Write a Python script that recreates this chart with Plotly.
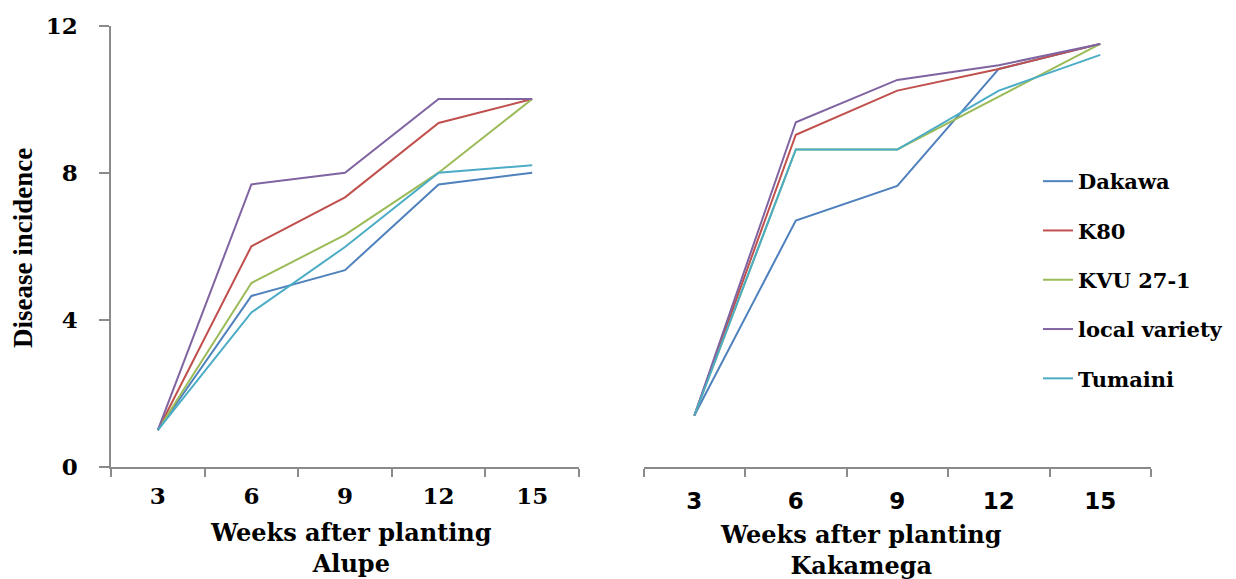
import plotly.graph_objects as go

W, H = 1236, 579

weeks = ["3", "6", "9", "12", "15"]
series_names = ["Dakawa", "K80", "KVU 27-1", "local variety", "Tumaini"]
colors = ["#4F81BD", "#C0504D", "#9BBB59", "#8064A2", "#4BACC6"]

# Alupe
dakawa_alupe = [1.0, 4.65, 5.35, 7.68, 8.0]
k80_alupe = [1.0, 6.0, 7.33, 9.35, 10.0]
kvu_alupe = [1.0, 5.0, 6.31, 8.0, 10.0]
local_alupe = [1.0, 7.68, 8.0, 10.0, 10.0]
tumaini_alupe = [1.0, 4.2, 5.98, 8.0, 8.2]

# Kakamega
dakawa_kak = [1.4, 6.7, 7.64, 10.82, 11.5]
k80_kak = [1.4, 9.03, 10.23, 10.82, 11.5]
kvu_kak = [1.4, 8.63, 8.63, 10.07, 11.5]
local_kak = [1.4, 9.37, 10.52, 10.92, 11.5]
tumaini_kak = [1.4, 8.63, 8.63, 10.23, 11.2]

y_ticks = [0, 4, 8, 12]

alupe = [dakawa_alupe, k80_alupe, kvu_alupe, local_alupe, tumaini_alupe]
kak = [dakawa_kak, k80_kak, kvu_kak, local_kak, tumaini_kak]

def px_x(p):
    return p / W

def px_y(p):
    return 1 - p / H

fig = go.Figure()
for i, name in enumerate(series_names):
    fig.add_trace(go.Scatter(x=weeks, y=alupe[i], mode="lines", name=name,
                             line=dict(color=colors[i], width=2),
                             xaxis="x", yaxis="y", showlegend=False,
                             legendgroup=name))
for i, name in enumerate(series_names):
    fig.add_trace(go.Scatter(x=weeks, y=kak[i], mode="lines", name=name,
                             line=dict(color=colors[i], width=2),
                             xaxis="x2", yaxis="y2", showlegend=True,
                             legendgroup=name))

axis_col = "#8a8a8a"
ydom = [px_y(467), px_y(25.5)]

fig.update_layout(
    width=W, height=H,
    margin=dict(l=0, r=0, t=0, b=0, autoexpand=False),
    paper_bgcolor="white", plot_bgcolor="white",
    xaxis=dict(domain=[px_x(111), px_x(579)], type="category", range=[-0.5, 4.5],
               showline=True, linecolor=axis_col, linewidth=1.5,
               ticks="outside", tickson="boundaries", ticklen=8, tickcolor=axis_col, tickwidth=1.5,
               showgrid=False, zeroline=False, anchor="y", automargin=False,
               tickfont=dict(family="DejaVu Serif", size=23, color="black", weight="bold"),
               ticklabelstandoff=8),
    yaxis=dict(domain=ydom, range=[0, 12], tickvals=y_ticks,
               showline=True, linecolor=axis_col, linewidth=1.5,
               ticks="outside", ticklen=10, tickcolor=axis_col, tickwidth=1.5,
               showgrid=False, zeroline=False, anchor="x", automargin=False,
               tickfont=dict(family="DejaVu Serif", size=23, color="black", weight="bold"),
               ticklabelstandoff=17),
    xaxis2=dict(domain=[px_x(643.6), px_x(1151)], type="category", range=[-0.5, 4.5],
                showline=True, linecolor=axis_col, linewidth=1.5,
                ticks="outside", tickson="boundaries", ticklen=8, tickcolor=axis_col, tickwidth=1.5,
                showgrid=False, zeroline=False, anchor="y2", automargin=False,
                tickfont=dict(family="DejaVu Sans", size=23, color="black", weight="bold"),
                ticklabelstandoff=13),
    yaxis2=dict(domain=ydom, range=[0, 12], visible=False, anchor="x2", automargin=False),
    legend=dict(x=px_x(1038), y=px_y(161), xanchor="left", yanchor="top",
                font=dict(family="DejaVu Serif", size=21, color="black", weight="bold"),
                tracegroupgap=19, bgcolor="rgba(0,0,0,0)", itemwidth=30),
    showlegend=True,
)

def ann(text, x, y, size=24, angle=0):
    fig.add_annotation(text=text, x=px_x(x), y=px_y(y), xref="paper", yref="paper",
                       showarrow=False, xanchor="center", yanchor="middle", textangle=angle,
                       font=dict(family="DejaVu Serif", size=size, color="black", weight="bold"))

ann("Weeks after planting<br>Alupe", 351, 548)
ann("Weeks after planting<br>Kakamega", 861, 550)
fig.add_annotation(text="Disease incidence", x=px_x(23), y=px_y(248), xref="paper", yref="paper",
                   showarrow=False, xanchor="center", yanchor="middle", textangle=-90,
                   font=dict(family="Liberation Serif", size=27, color="black", weight="bold"))

fig.write_html("out.html")
